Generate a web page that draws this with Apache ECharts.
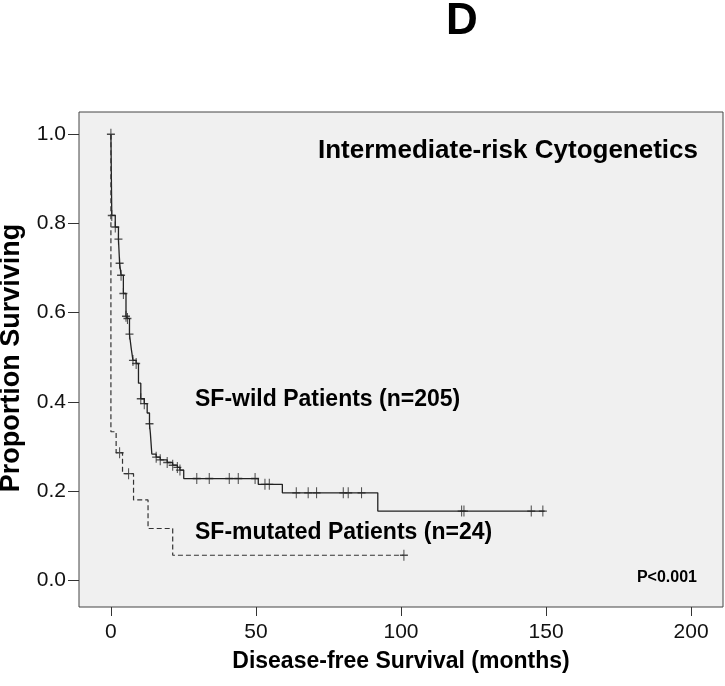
<!DOCTYPE html>
<html><head><meta charset="utf-8">
<script src="https://cdn.jsdelivr.net/npm/echarts@6/dist/echarts.min.js"></script>
<style>html,body{margin:0;padding:0;background:#fff}#c{width:725px;height:686px}</style>
</head><body><div id="c"></div>
<script>
// SF-wild (solid) Kaplan-Meier steps
const wildTimes = [0, 0.3, 1.5, 2.6, 3.0, 3.5, 4.3, 5.2, 5.7, 6.4, 7.0, 7.6, 8.7, 9.5, 10.3, 11.5, 12.5, 13.3, 13.6, 14.1, 15.6, 17.0, 19.4, 21.3, 22.9, 23.8, 25.1, 50.8, 59.1, 92.0, 149.5];
const wildSurv  = [1.0, 0.818, 0.792, 0.765, 0.711, 0.684, 0.643, 0.592, 0.587, 0.552, 0.52, 0.493, 0.486, 0.442, 0.407, 0.396, 0.375, 0.351, 0.330, 0.283, 0.276, 0.270, 0.264, 0.258, 0.253, 0.247, 0.228, 0.215, 0.196, 0.155, 0.155];
const wildCensorTimes = [0, 0.3, 1.5, 2.6, 3.0, 3.5, 4.3, 5.2, 5.7, 6.4, 7.6, 8.7, 10.3, 11.5, 13.3, 15.6, 17.0, 19.4, 21.3, 22.9, 23.8, 29.6, 33.9, 40.8, 43.9, 49.7, 53.1, 54.6, 63.9, 68.0, 70.9, 80.1, 81.8, 86.4, 120.9, 121.7, 144.9, 148.9];
// SF-mutated (dashed)
const mutTimes = [0, 0, 1.8, 4.0, 7.8, 12.8, 21.3, 101];
const mutSurv  = [1.0, 0.333, 0.286, 0.239, 0.180, 0.116, 0.056, 0.056];
const mutCensorTimes = [3.0, 6.1, 101];
const xTicks = [0, 50, 100, 150, 200];
const yTicks = [0, 0.2, 0.4, 0.6, 0.8, 1.0];

function survAt(times, surv, t) {
  let p = surv[0];
  for (let i = 0; i < times.length; i++) { if (times[i] <= t + 1e-9) p = surv[i]; }
  return p;
}
const font = '"Liberation Sans", Arial, sans-serif';
const cross = 'path://M5,0L5,10M0,5L10,5';
const chart = echarts.init(document.getElementById('c'), null, {renderer: 'canvas'});
chart.setOption({
  animation: false,
  grid: {left: 79, right: 2, top: 112, bottom: 79, show: true, backgroundColor: '#F0F0F0', borderColor: '#444', borderWidth: 1},
  xAxis: {type: 'value', min: -11, max: 211, axisLine: {show: false, onZero: false}, splitLine: {show: false},
    axisTick: {show: true, customValues: xTicks, length: 9, lineStyle: {color: '#333'}},
    axisLabel: {customValues: xTicks, fontSize: 21, color: '#111', fontFamily: font, margin: 15}},
  yAxis: {type: 'value', min: -0.06, max: 1.05, axisLine: {show: false, onZero: false}, splitLine: {show: false},
    axisTick: {show: true, customValues: yTicks, length: 11, lineStyle: {color: '#333'}},
    axisLabel: {customValues: yTicks, formatter: v => v.toFixed(1), fontSize: 21, color: '#111', fontFamily: font, margin: 13}},
  series: [
    {type: 'line', step: 'end', data: wildTimes.map((t, i) => [t, wildSurv[i]]), showSymbol: false, symbol: 'none',
     lineStyle: {color: '#222', width: 1.3}},
    {type: 'line', step: 'end', data: mutTimes.map((t, i) => [t, mutSurv[i]]), showSymbol: false, symbol: 'none',
     lineStyle: {color: '#333', width: 1.2, type: [5, 3]}},
    {type: 'scatter', data: wildCensorTimes.map(t => [t, survAt(wildTimes, wildSurv, t)]), symbol: cross, symbolSize: [8, 11],
     itemStyle: {color: 'none', borderColor: '#222', borderWidth: 1.2}},
    {type: 'scatter', data: mutCensorTimes.map(t => [t, survAt(mutTimes, mutSurv, t)]), symbol: cross, symbolSize: [8, 11],
     itemStyle: {color: 'none', borderColor: '#222', borderWidth: 1.2}}
  ],
  graphic: [
    {type: 'text', x: 462, y: 22, style: {text: 'D', font: 'bold 44px ' + font, fill: '#000', align: 'center', verticalAlign: 'middle'}},
    {type: 'text', x: 698, y: 151, style: {text: 'Intermediate-risk Cytogenetics', font: 'bold 26px ' + font, fill: '#000', align: 'right', verticalAlign: 'middle'}},
    {type: 'text', x: 195, y: 400, style: {text: 'SF-wild Patients (n=205)', font: 'bold 23px ' + font, fill: '#000', align: 'left', verticalAlign: 'middle'}},
    {type: 'text', x: 195, y: 533, style: {text: 'SF-mutated Patients (n=24)', font: 'bold 23px ' + font, fill: '#000', align: 'left', verticalAlign: 'middle'}},
    {type: 'text', x: 697, y: 578, style: {text: 'P<0.001', font: 'bold 16px ' + font, fill: '#000', align: 'right', verticalAlign: 'middle'}},
    {type: 'text', x: 401, y: 662, style: {text: 'Disease-free Survival (months)', font: 'bold 23px ' + font, fill: '#000', align: 'center', verticalAlign: 'middle'}},
    {type: 'text', x: 12, y: 358, rotation: Math.PI / 2, style: {text: 'Proportion Surviving', font: 'bold 27px ' + font, fill: '#000', align: 'center', verticalAlign: 'middle'}}
  ]
});
</script></body></html>
